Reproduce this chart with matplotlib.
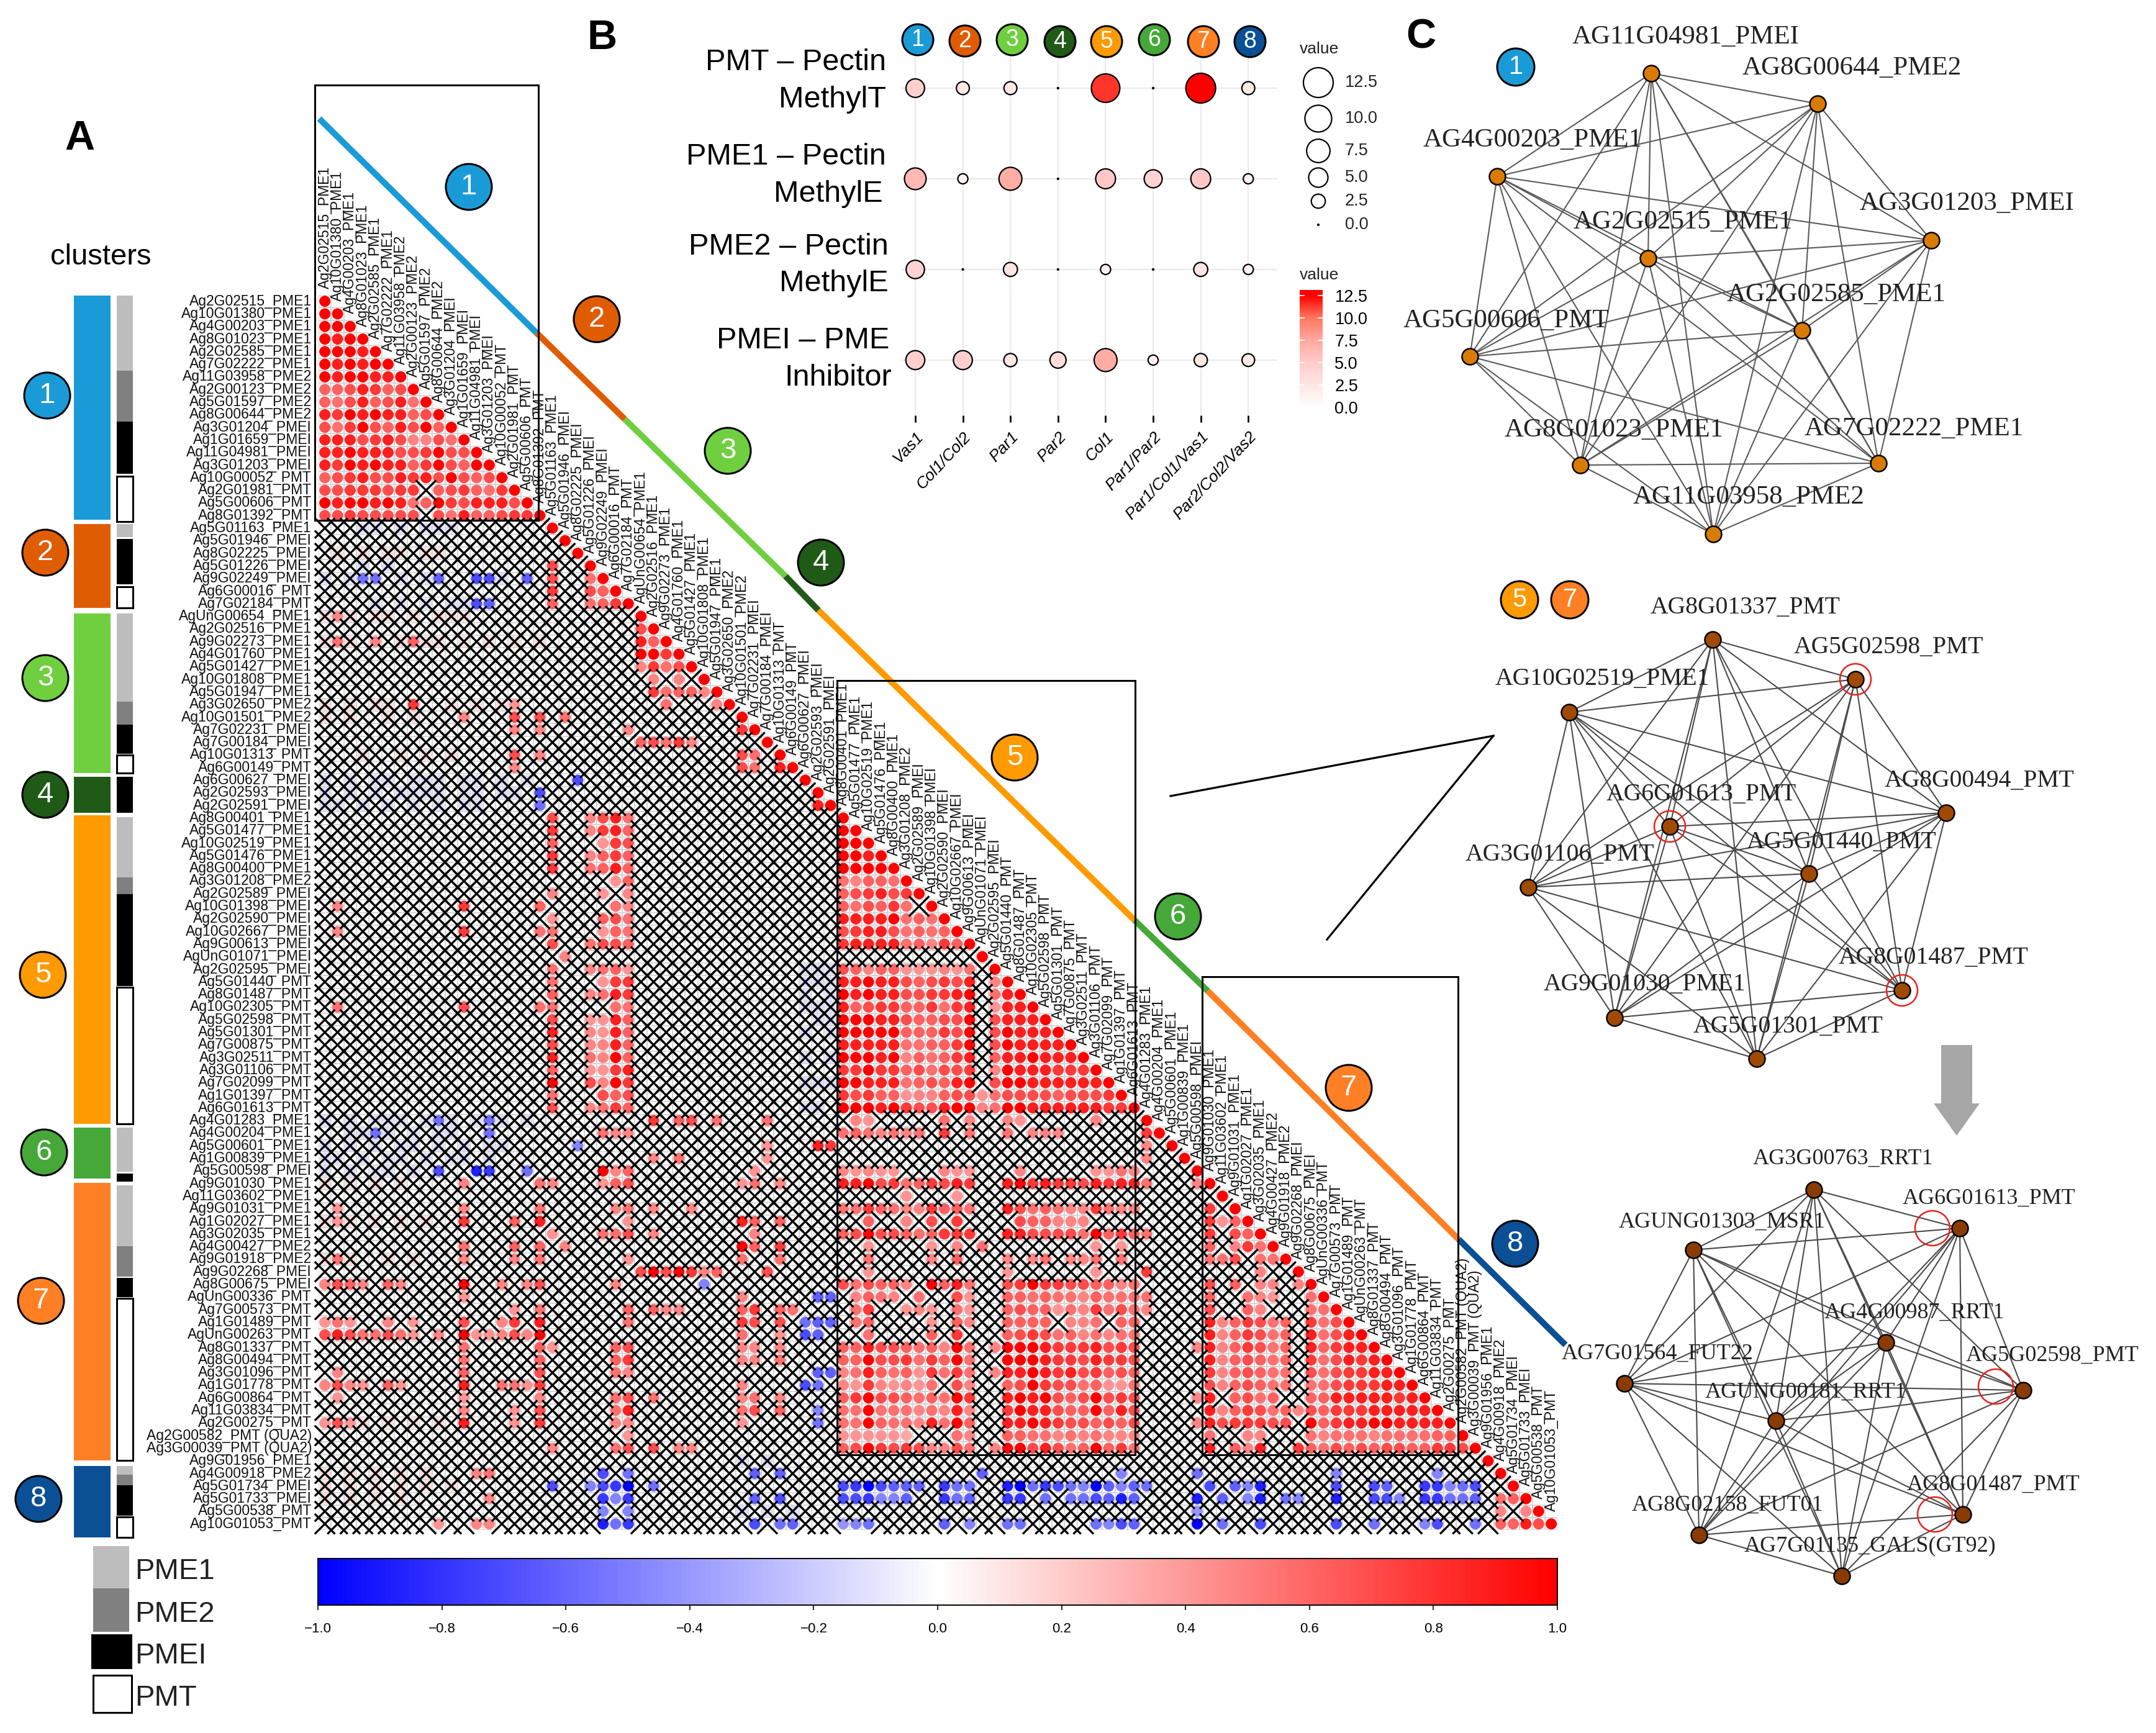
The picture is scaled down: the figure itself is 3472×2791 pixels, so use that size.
from itertools import combinations
import numpy as np
import matplotlib
matplotlib.use("Agg")
import matplotlib.pyplot as plt
from matplotlib.collections import LineCollection
from matplotlib.colors import LinearSegmentedColormap
from matplotlib.patches import Circle, Rectangle, FancyArrow

plt.rcParams['font.family'] = ['Liberation Sans', 'DejaVu Sans']
W, H = 3473, 2791

# ---------------------------------------------------------------- data: panel A
labels_c1 = ["Ag2G02515_PME1","Ag10G01380_PME1","Ag4G00203_PME1","Ag8G01023_PME1","Ag2G02585_PME1","Ag7G02222_PME1",
 "Ag11G03958_PME2","Ag2G00123_PME2","Ag5G01597_PME2","Ag8G00644_PME2","Ag3G01204_PMEI","Ag1G01659_PMEI",
 "Ag11G04981_PMEI","Ag3G01203_PMEI","Ag10G00052_PMT","Ag2G01981_PMT","Ag5G00606_PMT","Ag8G01392_PMT"]
labels_c2 = ["Ag5G01163_PME1","Ag5G01946_PMEI","Ag8G02225_PMEI","Ag5G01226_PMEI","Ag9G02249_PMEI","Ag6G00016_PMT","Ag7G02184_PMT"]
labels_c3 = ["AgUnG00654_PME1","Ag2G02516_PME1","Ag9G02273_PME1","Ag4G01760_PME1","Ag5G01427_PME1","Ag10G01808_PME1",
 "Ag5G01947_PME1","Ag3G02650_PME2","Ag10G01501_PME2","Ag7G02231_PMEI","Ag7G00184_PMEI","Ag10G01313_PMT","Ag6G00149_PMT"]
labels_c4 = ["Ag6G00627_PMEI","Ag2G02593_PMEI","Ag2G02591_PMEI"]
labels_c5 = ["Ag8G00401_PME1","Ag5G01477_PME1","Ag10G02519_PME1","Ag5G01476_PME1","Ag8G00400_PME1","Ag3G01208_PME2",
 "Ag2G02589_PMEI","Ag10G01398_PMEI","Ag2G02590_PMEI","Ag10G02667_PMEI","Ag9G00613_PMEI","AgUnG01071_PMEI","Ag2G02595_PMEI",
 "Ag5G01440_PMT","Ag8G01487_PMT","Ag10G02305_PMT","Ag5G02598_PMT","Ag5G01301_PMT","Ag7G00875_PMT","Ag3G02511_PMT",
 "Ag3G01106_PMT","Ag7G02099_PMT","Ag1G01397_PMT","Ag6G01613_PMT"]
labels_c6 = ["Ag4G01283_PME1","Ag4G00204_PME1","Ag5G00601_PME1","Ag1G00839_PME1","Ag5G00598_PMEI"]
labels_c7 = ["Ag9G01030_PME1","Ag11G03602_PME1","Ag9G01031_PME1","Ag1G02027_PME1","Ag3G02035_PME1","Ag4G00427_PME2",
 "Ag9G01918_PME2","Ag9G02268_PMEI","Ag8G00675_PMEI","AgUnG00336_PMT","Ag7G00573_PMT","Ag1G01489_PMT","AgUnG00263_PMT",
 "Ag8G01337_PMT","Ag8G00494_PMT","Ag3G01096_PMT","Ag1G01778_PMT","Ag6G00864_PMT","Ag11G03834_PMT","Ag2G00275_PMT",
 "Ag2G00582_PMT (QUA2)","Ag3G00039_PMT (QUA2)"]
labels_c8 = ["Ag9G01956_PME1","Ag4G00918_PME2","Ag5G01734_PMEI","Ag5G01733_PMEI","Ag5G00538_PMT","Ag10G01053_PMT"]
gene_labels = labels_c1+labels_c2+labels_c3+labels_c4+labels_c5+labels_c6+labels_c7+labels_c8
N = len(gene_labels)

# significant cells read from the matrix: row -> (first column, level characters)
# 1-9,T = positive strength levels, a-j = negative strength levels, '.' = not significant
sig_cells = {
1:[(0,'T')],2:[(0,'TT')],3:[(0,'T9T')],4:[(0,'TTT9')],5:[(0,'T9T9T')],6:[(0,'T9TT99')],7:[(0,'6679867')],
8:[(0,'65796795')],9:[(0,'98T9T9967')],10:[(0,'758T7697T6')],11:[(0,'99978974475')],12:[(0,'99T999778T77')],
13:[(0,'98T9T9968T76T')],14:[(0,'6789779897T767')],15:[(0,'77888788.678658')],16:[(0,'T9TT9T956T879997')],
17:[(0,'77877777.75966788')],
21:[(18,'7')],22:[(3,'ee'),(9,'f'),(12,'gg'),(16,'f'),(18,'7'),(21,'5')],23:[(18,'8'),(21,'76')],
24:[(12,'gf'),(18,'6'),(21,'568')],25:[(1,'4')],26:[(25,'7')],27:[(1,'5'),(4,'4'),(7,'6'),(25,'96')],
28:[(25,'TT8')],29:[(25,'4857')],30:[(26,'4'),(28,'4')],31:[(26,'85664')],32:[(7,'8'),(15,'3'),(27,'5'),(31,'4')],
33:[(11,'4'),(15,'7'),(17,'7'),(19,'5')],34:[(15,'4'),(17,'4'),(24,'4'),(33,'8')],35:[(25,'67584')],
36:[(15,'7'),(17,'4'),(33,'7'),(34,'5')],37:[(15,'4'),(33,'7'),(34,'5'),(36,'9')],38:[(20,'g')],39:[(17,'g')],
40:[(17,'e'),(39,'9')],41:[(18,'7'),(21,'4795')],
42:[(18,'8'),(21,'4896'),(41,'T')],43:[(18,'6'),(22,'387'),(41,'TT')],44:[(18,'8'),(21,'4686'),(41,'TT9')],
45:[(18,'8'),(21,'5696'),(41,'TTTT')],46:[(23,'36'),(41,'54665')],47:[(18,'4'),(22,'3'),(24,'4'),(41,'678978')],
48:[(1,'4'),(11,'8'),(17,'6'),(23,'54'),(41,'657685')],49:[(18,'3'),(22,'675'),(41,'9999T565')],
50:[(1,'4'),(11,'8'),(17,'55'),(22,'365'),(41,'789975656')],51:[(18,'7'),(21,'5776'),(41,'8999956486')],
52:[(19,'4')],
53:[(18,'5'),(21,'4563'),(41,'76466333435')],54:[(18,'5'),(22,'388'),(41,'99T99767879'),(53,'4')],
55:[(18,'6'),(21,'4598'),(41,'T9T9977889T'),(53,'59')],56:[(1,'5'),(11,'7'),(17,'55'),(23,'55'),(41,'96788668589'),(53,'399')],
57:[(18,'7'),(21,'3396'),(41,'TTT9976677T'),(53,'7999')],58:[(18,'9'),(21,'4396'),(41,'TTTTT66687T'),(53,'7T999')],
59:[(18,'7'),(21,'4496'),(41,'9999955668T'),(53,'7T9999')],60:[(18,'9'),(21,'54T6'),(41,'TTT9T465689'),(53,'699T999')],
61:[(18,'6'),(21,'3389'),(41,'88T88675778'),(53,'4T999888')],62:[(18,'T'),(21,'74T8'),(41,'TT99956769T'),(53,'7TT999999')],
63:[(18,'5'),(22,'767'),(41,'87866344677'),(52,'35'),(54,'777767778')],
64:[(18,'7'),(21,'4586'),(41,'TTT9T8779TT'),(52,'45'),(54,'TT99999988')],
65:[(9,'e'),(13,'e'),(26,'8'),(28,'67'),(31,'5'),(35,'5'),(42,'43'),(49,'5'),(51,'4'),(54,'43'),(61,'4')],
66:[(4,'e'),(13,'e'),(22,'544'),(41,'5654545'),(49,'8'),(51,'5'),(54,'5'),(56,'444'),(65,'8')],
67:[(20,'d'),(35,'3'),(39,'98'),(65,'4')],68:[(26,'4'),(28,'5'),(35,'3'),(65,'4')],
69:[(9,'g'),(12,'ih'),(16,'e'),(22,'T46'),(34,'3'),(41,'43433'),(49,'433'),(55,'4'),(61,'3354')],
70:[(11,'4'),(17,'54'),(22,'367'),(33,'35'),(36,'4'),(41,'99T78568798'),(54,'9T898879899'),(65,'5'),(69,'4')],
71:[(46,'3'),(50,'3')],
72:[(1,'3'),(11,'4'),(17,'5'),(23,'45'),(26,'4'),(29,'4'),(41,'55865448665'),(54,'97565448544'),(70,'8')],
73:[(1,'3'),(11,'8'),(15,'6'),(17,'9'),(24,'3'),(33,'96'),(36,'6'),(43,'6'),(46,'4'),(48,'7'),(50,'8'),(55,'76644'),(60,'4'),(70,'836')],
74:[(18,'3'),(22,'557'),(26,'4'),(34,'4'),(41,'67T77656888'),(54,'997777'),(60,'5T686'),(65,'5'),(70,'8'),(72,'76')],
75:[(11,'5'),(15,'6'),(17,'6'),(19,'4'),(33,'T6'),(36,'8'),(43,'3'),(48,'3'),(50,'4'),(52,'5'),(61,'3'),(63,'3'),(70,'6'),(72,'485')],
76:[(1,'5'),(11,'4'),(15,'4'),(17,'5'),(24,'3'),(33,'5'),(36,'5'),(43,'5'),(48,'4'),(50,'6'),(54,'4'),(56,'45'),(59,'445'),(63,'5'),(70,'55'),(72,'7'),(74,'55')],
77:[(25,'7T7T846'),(35,'7'),(43,'3'),(54,'3'),(61,'3'),(65,'8'),(74,'4')],
78:[(0,'4764'),(5,'64'),(11,'T'),(14,'4'),(16,'47'),(23,'4'),(30,'d'),(41,'757664'),(48,'T695'),(54,'78T88776645'),(70,'7'),(72,'6'),(74,'44'),(77,'4')],
79:[(11,'3'),(33,'4'),(39,'ff'),(42,'4654'),(47,'5'),(50,'73'),(54,'66565546555'),(65,'5'),(70,'6'),(73,'543'),(78,'5')],
80:[(15,'3'),(17,'5'),(24,'6'),(26,'644'),(33,'68'),(36,'65'),(42,'58'),(46,'343'),(50,'53'),(54,'67663548575'),(65,'4'),(70,'7'),(73,'64'),(78,'55')],
81:[(0,'353'),(5,'4'),(7,'3'),(11,'7'),(14,'48'),(17,'9'),(24,'5'),(33,'87'),(36,'7'),(38,'eff'),(42,'56'),(48,'3'),(50,'64'),(54,'6666'),(59,'445'),(63,'66'),(70,'9468756'),(78,'857')],
82:[(0,'79755753'),(9,'4'),(11,'T33474T'),(33,'5'),(36,'3'),(38,'gf'),(43,'5'),(48,'6'),(50,'8'),(54,'67875645455'),(70,'9468756'),(78,'9579')],
83:[(11,'5'),(17,'63'),(23,'67'),(33,'44'),(36,'4'),(41,'669776564T5'),(53,'4TTT98889787'),(69,'4'),(70,'9468756'),(78,'96899')],
84:[(11,'5'),(17,'6'),(23,'68'),(33,'44'),(36,'5'),(41,'66T778586T5'),(54,'TTT98879887'),(70,'9467656'),(78,'857989')],
85:[(1,'4'),(11,'6'),(17,'7'),(23,'54'),(39,'ff'),(41,'45965638585'),(53,'4'),(54,'99T98978676'),(70,'8467655'),(78,'7578899')],
86:[(0,'4743'),(5,'63'),(11,'9'),(14,'5538'),(33,'4'),(38,'ge'),(41,'43843435'),(50,'74'),(54,'67T87756335'),(70,'7467655'),(78,'55788899')],
87:[(1,'3'),(11,'3'),(17,'4'),(23,'57'),(26,'5'),(33,'45'),(36,'4'),(41,'68T776565T8'),(54,'9T9T767T787'),(69,'4'),(70,'9'),(72,'6756'),(78,'669999989')],
88:[(11,'4'),(15,'3'),(17,'7'),(23,'59'),(33,'57'),(36,'6'),(39,'d'),(41,'55T55545494'),(54,'8T99766T697'),(70,'9468756'),(77,'4'),(78,'7688899999')],
89:[(0,'373'),(11,'9'),(15,'3'),(17,'8'),(23,'44'),(33,'3'),(39,'e'),(41,'55T655495T6'),(54,'99T98776767'),(69,'4'),(70,'9788877'),(78,'T6899TT9999')],
90:[(24,'3'),(41,'333332'),(50,'54'),(54,'66554545444'),(70,'5'),(73,'44'),(78,'545554555566')],
91:[(18,'4'),(23,'57'),(26,'7'),(28,'44'),(41,'67T87874475'),(53,'4'),(54,'TT79756T685'),(70,'9'),(72,'64'),(74,'9'),(77,'8'),(78,'6576767766887')],
93:[(12,'45'),(22,'g'),(24,'e'),(34,'f'),(36,'f'),(52,'f'),(63,'d'),(69,'e'),(80,'d'),(88,'d')],
94:[(18,'g'),(21,'dghj'),(26,'e'),(41,'ghjgfff'),(49,'hee'),(54,'ijehgedjfdf'),(65,'e'),(70,'g'),(72,'fdi'),(80,'g'),(83,'gf'),(87,'hhdeg')],
95:[(13,'4'),(22,'hdh'),(34,'f'),(36,'g'),(41,'gghddf'),(49,'hef'),(54,'hh'),(57,'e'),(59,'eegfif'),(69,'i'),(71,'f'),(73,'di'),(76,'ed'),(80,'i'),(83,'ggd'),(87,'hheef'),(93,'56')],
96:[(22,'d'),(24,'d'),(69,'c'),(93,'4'),(95,'4')],
97:[(9,'3'),(12,'44'),(22,'ieh'),(34,'g'),(36,'ef'),(41,'cde'),(49,'f'),(51,'d'),(54,'ee'),(61,'edgf'),(69,'j'),(71,'e'),(74,'g'),(80,'g'),(83,'e'),(87,'dg'),(91,'e'),(93,'66'),(95,'97')],
}
# not-significant cells whose faint tint shows through the crosses: '+' red, '-' blue, '.' none
faint_cells = {
18:(3,'--.-.---'),20:(1,'+.+.++.++'),21:(3,'-.-'),22:(0,'-.-...-.--..-.-'),24:(4,'-.-.-.--'),
25:(0,'+.+.++.+.+++'),27:(0,'+.+.+.+.++.+.+.+.+'),32:(0,'+.+.++.+..+.+.+'),33:(0,'+.+..+.+'),36:(3,'+..+.+.+'),
38:(0,'-.-.--.---.--.-.-.'),39:(0,'-.-.-.----.--.--'),40:(0,'--.-.-.-.-.--'),
53:(38,'---'),54:(38,'---'),55:(38,'-.-'),56:(38,'---'),57:(38,'.--'),58:(38,'-.-'),60:(38,'-.-'),62:(38,'---'),64:(38,'--.'),
65:(0,'-.-.---.-.-.---.-'),66:(2,'--.-.-.--.'),67:(0,'-.-.-.--.-.-.--'),68:(0,'--.-.--.-.--.-'),69:(0,'-.-.--.-.'),
70:(0,'+.+.+.+'),73:(0,'+.+.+.+.+'),76:(0,'+.+..+.+'),89:(3,'+.+.+.+'),92:(33,'-.-'),
93:(0,'+.+.+.+.+'),94:(0,'+.+.+.+.+.+'),95:(0,'+.+.+.+'),96:(33,'-.-.-'),
}
level_corr = {'1':.28,'2':.34,'3':.42,'4':.48,'5':.56,'6':.62,'7':.70,'8':.78,'9':.88,'T':1.0,
              'a':-.28,'b':-.34,'c':-.42,'d':-.48,'e':-.56,'f':-.62,'g':-.70,'h':-.78,'i':-.88,'j':-1.0,
              '+':.14,'-':-.14}

cluster_ids = ['1','2','3','4','5','6','7','8']
cluster_colors = ['#1a9bd7','#e05c00','#6fcf3f','#1f5a17','#ff9a00','#45a838','#ff8024','#0b4f95']
cluster_bar_start = [476,844,988,1251,1313,1816,1905,2361]
cluster_bar_end   = [837,979,1245,1309,1810,1898,2352,2476]
type_names  = ['PME1','PME2','PMEI','PMT']
type_colors = ['#bdbdbd','#808080','#000000','#ffffff']
type_seg_kind  = [0,1,2,3, 0,2,3, 0,1,2,3, 2, 0,1,2,3, 0,2, 0,1,2,3, 0,1,2,3]
type_seg_start = [476,597,679,767, 844,868,945, 988,1130,1167,1216, 1251, 1316,1413,1440,1590, 1816,1890, 1909,2007,2058,2091, 2361,2375,2392,2443]
type_seg_end   = [597,679,763,840, 865,941,979, 1130,1167,1214,1245, 1309, 1413,1440,1588,1810, 1887,1903, 2007,2056,2089,2352, 2375,2392,2441,2476]
colorbar_ticks = [-1.0,-0.8,-0.6,-0.4,-0.2,0.0,0.2,0.4,0.6,0.8,1.0]

# ---------------------------------------------------------------- data: panel B
tissues = ['Vas1','Col1/Col2','Par1','Par2','Col1','Par1/Par2','Par1/Col1/Vas1','Par2/Col2/Vas2']
family_lines = [('PMT – Pectin','MethylT'),('PME1 – Pectin','MethylE'),('PME2 – Pectin','MethylE'),('PMEI – PME','Inhibitor')]
pmt_values  = [4.6,2.1,2.1,0.0,11.4,0.0,12.5,2.1]
pme1_values = [6.4,1.2,7.2,0.0,5.3,4.3,5.3,1.2]
pme2_values = [4.5,0.0,2.5,0.0,1.2,0.0,2.5,1.2]
pmei_values = [4.8,4.8,2.2,3.4,7.2,1.2,2.2,2.0]
size_legend_values = [12.5,10.0,7.5,5.0,2.5,0.0]

# ---------------------------------------------------------------- data: panel C
net1_names = ['AG11G04981_PMEI','AG8G00644_PME2','AG4G00203_PME1','AG3G01203_PMEI','AG2G02515_PME1','AG2G02585_PME1',
              'AG5G00606_PMT','AG8G01023_PME1','AG7G02222_PME1','AG11G03958_PME2']
net2_names = ['AG8G01337_PMT','AG5G02598_PMT','AG10G02519_PME1','AG8G00494_PMT','AG6G01613_PMT','AG5G01440_PMT',
              'AG3G01106_PMT','AG8G01487_PMT','AG9G01030_PME1','AG5G01301_PMT']
net3_names = ['AG3G00763_RRT1','AG6G01613_PMT','AGUNG01303_MSR1','AG4G00987_RRT1','AG5G02598_PMT','AG7G01564_FUT22',
              'AGUNG00181_RRT1','AG8G02158_FUT01','AG8G01487_PMT','AG7G01135_GALS(GT92)']

# ---------------------------------------------------------------- helpers
def add_ax(l, t, r, b, **kw):
    return fig.add_axes([l/W, 1-b/H, (r-l)/W, (b-t)/H], **kw)

def pts(px):
    return px*72/100

corr_cmap = LinearSegmentedColormap.from_list('corr', ['#0000ff','#ffffff','#ff0000'])
value_cmap = LinearSegmentedColormap.from_list('val', [(0,'#ffffff'),(.2,'#ffe6e3'),(.4,'#ffcccc'),(.6,'#ffa9a0'),(.8,'#ff7a60'),(1,'#ff0000')])

fig = plt.figure(figsize=(W/100, H/100), dpi=100, facecolor='white')

# ---------------------------------------------------------------- matrix
sig_r, sig_c, sig_v, cross = [], [], [], []
marks = {}
for r, segs in sig_cells.items():
    for start, chars in segs:
        for k, ch in enumerate(chars):
            if ch != '.':
                marks[(r, start+k)] = level_corr[ch]
faint = {}
for r, (start, chars) in faint_cells.items():
    for k, ch in enumerate(chars):
        if ch != '.':
            faint[(r, start+k)] = level_corr[ch]

ax = add_ax(513, 475, 513+98*20.36, 475+98*20.3)
ax.set_xlim(-.5, N-.5); ax.set_ylim(N-.5, -.5); ax.axis('off')

grid_segments = []
for r in range(N):
    for c in range(r+1):
        grid_segments += [[(c-.5,r-.5),(c+.5,r-.5)],[(c-.5,r+.5),(c+.5,r+.5)],[(c-.5,r-.5),(c-.5,r+.5)],[(c+.5,r-.5),(c+.5,r+.5)]]
        if r == c:
            sig_r.append(r); sig_c.append(c); sig_v.append(1.0)
        elif (r, c) in marks:
            sig_r.append(r); sig_c.append(c); sig_v.append(marks[(r, c)])
        else:
            cross.append((r, c))
            if (r, c) in faint:
                sig_r.append(r); sig_c.append(c); sig_v.append(faint[(r, c)])
ax.add_collection(LineCollection(grid_segments, colors='#d2d2d2', linewidths=1.1, zorder=1))
ax.scatter(sig_c, sig_r, c=sig_v, cmap=corr_cmap, vmin=-1, vmax=1, s=pts(18)**2, linewidths=0, zorder=2)
arm = 0.8
x_segments = []
for r, c in cross:
    x_segments += [[(c-arm,r-arm),(c+arm,r+arm)],[(c-arm,r+arm),(c+arm,r-arm)]]
lc = LineCollection(x_segments, colors='black', linewidths=pts(3.3), zorder=3)
lc.set_clip_on(False)
ax.add_collection(lc)
for i, name in enumerate(gene_labels):
    ax.text(-1.04, i, name, ha='right', va='center', fontsize=16.5, color='#111111', clip_on=False)
    ax.text(i, i-1.0, name, ha='center', va='bottom', rotation=90, fontsize=16.5, color='#111111', clip_on=False)

# ---------------------------------------------------------------- correlation colorbar
cax = add_ax(512, 2510, 2508, 2585)
cax.imshow(np.linspace(-1, 1, 512)[None, :], extent=(-1, 1, 0, 1), aspect='auto', cmap=corr_cmap, vmin=-1, vmax=1)
cax.set_yticks([])
cax.set_xticks(colorbar_ticks)
cax.set_xticklabels([f"{v:.1f}".replace('-', '\u2212') for v in colorbar_ticks], fontsize=16)
cax.tick_params(axis='x', length=6, width=1.2, pad=14)
for s in cax.spines.values():
    s.set_linewidth(1.4)

# ---------------------------------------------------------------- panel B bubbles
bax = add_ax(1451, 85, 2057, 669)
bax.set_xlim(-.30, 7.61); bax.set_ylim(3.61, -.39)
bax.set_xticks(range(len(tissues)))
bax.set_xticklabels(tissues, rotation=47, ha='right', rotation_mode='anchor', style='italic', fontsize=19)
bax.set_yticks(range(4)); bax.set_yticklabels([])
bax.tick_params(axis='y', length=0)
bax.tick_params(axis='x', length=8, width=2, pad=8)
bax.grid(True, color='#ebebeb', linewidth=pts(2.4)); bax.set_axisbelow(True)
for s in bax.spines.values():
    s.set_visible(False)

def bubble_area(v):
    return pts(2 + 46*np.sqrt(np.asarray(v)/12.5))**2

for i, vals in enumerate([pmt_values, pme1_values, pme2_values, pmei_values]):
    bax.scatter(range(len(vals)), [i]*len(vals), s=bubble_area(vals), c=vals, cmap=value_cmap, vmin=0, vmax=12.5,
                edgecolors='black', linewidths=pts(2.2), clip_on=False, zorder=3)

vax = add_ax(2093, 467, 2130, 656)
vax.imshow(np.linspace(13.1, 0, 256)[:, None], extent=(0, 1, 0, 13.1), aspect='auto', cmap=value_cmap, vmin=0, vmax=12.5)
vax.set_xticks([]); vax.yaxis.tick_right()
vax.set_yticks(size_legend_values)
vax.set_yticklabels([f"{v:.1f}" for v in size_legend_values], fontsize=19.5)
vax.tick_params(axis='y', length=0, pad=14)
for s in vax.spines.values():
    s.set_visible(False)
for v in size_legend_values:
    vax.plot([0, .2], [v, v], color='white', lw=1.2)
    vax.plot([.8, 1], [v, v], color='white', lw=1.2)

# ---------------------------------------------------------------- overlay in picture pixels
ov = fig.add_axes([0, 0, 1, 1], zorder=5)
ov.set_xlim(0, W); ov.set_ylim(H, 0); ov.axis('off'); ov.patch.set_alpha(0)

def number_badge(x, y, r, txt, color, size):
    ov.add_patch(Circle((x, y), r, facecolor=color, edgecolor='black', linewidth=pts(3), zorder=8))
    ov.text(x, y, txt, color='white', fontsize=size, ha='center', va='center', zorder=9)

# diagonal cluster strip
strip_x = [514,864,1006,1265,1318,1827,1945,2349,2521]
strip_y = [191,536,675,928,983,1482,1596,1996,2166]
for i, col in enumerate(cluster_colors):
    ov.plot(strip_x[i:i+2], strip_y[i:i+2], color=col, lw=pts(10), solid_capstyle='butt', zorder=6)

# boxes around clusters
for (l, t, r, b) in [(507,137,867,838),(1348,1096,1828,2343),(1936,1573,2348,2343)]:
    ov.add_patch(Rectangle((l, t), r-l, b-t, fill=False, edgecolor='black', linewidth=pts(3), zorder=7))

badge_top_x = [755,961,1172,1322,1634,1897,2172,2440]
badge_top_y = [301,514,726,906,1220,1476,1752,2003]
badge_left_x = [76,73,73,73,69,71,66,62]
badge_left_y = [637,890,1092,1280,1570,1856,2095,2414]
badge_b_x = [1478,1554,1630,1707,1782,1859,1938,2013]
badge_b_y = [64,66,64,67,67,64,67,67]
for i, cid in enumerate(cluster_ids):
    col = cluster_colors[i]
    number_badge(badge_top_x[i], badge_top_y[i], 37, cid, col, 34)
    number_badge(badge_left_x[i], badge_left_y[i], 37, cid, col, 34)
    number_badge(badge_b_x[i], badge_b_y[i], 25, cid, col, 27)
number_badge(2441, 108, 30, '1', cluster_colors[0], 30)
number_badge(2447, 966, 30, '5', cluster_colors[4], 30)
number_badge(2528, 966, 30, '7', cluster_colors[6], 30)

# cluster and type bars
for s, e, col in zip(cluster_bar_start, cluster_bar_end, cluster_colors):
    ov.bar(148.5, e-s, bottom=s, width=59, color=col, linewidth=0, zorder=3)
for k, s, e in zip(type_seg_kind, type_seg_start, type_seg_end):
    ov.bar(201, e-s, bottom=s, width=26, color=type_colors[k], edgecolor='black' if k == 3 else 'none',
           linewidth=pts(3) if k == 3 else 0, zorder=3)

ov.text(162, 414, 'clusters', fontsize=34, ha='center', va='center')
ov.text(128, 224, 'A', fontsize=48, fontweight='bold', ha='center', va='center')
ov.text(970, 62, 'B', fontsize=48, fontweight='bold', ha='center', va='center')
ov.text(2288, 60, 'C', fontsize=48, fontweight='bold', ha='center', va='center')

# type legend
legend_box_x = [150,150,147,150]
legend_box_y = [2490,2558,2632,2698]
legend_box_w = [58,58,66,62]
legend_box_h = [68,70,56,60]
for i, name in enumerate(type_names):
    ov.add_patch(Rectangle((legend_box_x[i], legend_box_y[i]), legend_box_w[i], legend_box_h[i], facecolor=type_colors[i],
                           edgecolor='black' if i == 3 else type_colors[i], linewidth=pts(3) if i == 3 else 0, zorder=3))
    ov.text(217, legend_box_y[i]+legend_box_h[i]/2+7, name, fontsize=34, ha='left', va='center', color='#222222')

# family labels of panel B
line_right = [(1427,1427),(1427,1422),(1431,1431),(1432,1436)]
line_y = [(100,160),(252,312),(397,456),(548,608)]
for (a, b), (ra, rb), (ya, yb) in zip(family_lines, line_right, line_y):
    ov.text(ra, ya, a, fontsize=35, ha='right', va='center')
    ov.text(rb, yb, b, fontsize=35, ha='right', va='center')

# size legend
ov.text(2125, 79, 'value', fontsize=19, ha='center', va='center', color='#222222')
ov.text(2125, 443, 'value', fontsize=19, ha='center', va='center', color='#222222')
legend_y = [133,191,243,286,324,362]
ov.scatter([2123]*6, legend_y, s=bubble_area(size_legend_values), facecolors='white', edgecolors='black', linewidths=pts(2.2), zorder=3)
for v, y in zip(size_legend_values, legend_y):
    ov.text(2166, y, f"{v:.1f}", fontsize=19.5, ha='left', va='center', color='#222222')

# networks
def network(names, nx, ny, lx, ly, fs, node_color, edge_color):
    segs = [[(nx[a], ny[a]), (nx[b], ny[b])] for a, b in combinations(range(len(names)), 2)]
    ov.add_collection(LineCollection(segs, colors=edge_color, linewidths=1.5, zorder=3))
    ov.scatter(nx, ny, s=pts(26)**2, c=node_color, edgecolors='black', linewidths=pts(2.5), zorder=4)
    for n, x, y in zip(names, lx, ly):
        ov.text(x, y+3, n, family='Liberation Serif', fontsize=fs, ha='center', va='center', color='#222222', zorder=5)

net1_x = [2659,2927,2411,3110,2654,2902,2367,2545,3025,2759]
net1_y = [118,167,284,387,416,532,574,749,746,860]
net1_lx = [2715,2982,2468,3168,2710,2957,2425,2599,3082,2816]
net1_ly = [57,107,223,325,355,472,514,690,688,798]
network(net1_names, net1_x, net1_y, net1_lx, net1_ly, 31, '#d97b00', '#5a5a5a')

net2_x = [2758,2988,2527,3134,2689,2913,2461,3063,2600,2829]
net2_y = [1030,1094,1147,1309,1331,1407,1429,1595,1639,1705]
net2_lx = [2811,3041,2580,3188,2740,2966,2512,3114,2649,2880]
net2_ly = [975,1039,1090,1254,1276,1353,1373,1539,1582,1650]
network(net2_names, net2_x, net2_y, net2_lx, net2_ly, 28.5, '#a04a00', '#4a4a4a')

net3_x = [2921,3156,2727,3037,3258,2616,2860,2736,3161,2966]
net3_y = [1916,1978,2013,2162,2239,2228,2288,2472,2439,2538]
net3_lx = [2968,3203,2773,3083,3305,2669,2908,2782,3210,3012]
net3_ly = [1863,1927,1965,2111,2180,2177,2239,2421,2388,2487]
network(net3_names, net3_x, net3_y, net3_lx, net3_ly, 26, '#8a3c00', '#4a4a4a')

ring_x = [2988,2689,3063,3112,3214,3116]
ring_y = [1094,1331,1595,1978,2233,2439]
ring_d = [50,50,50,56,56,56]
ov.scatter(ring_x, ring_y, s=[pts(d)**2 for d in ring_d], facecolors='none', edgecolors='#e8201c', linewidths=pts(2.5), zorder=6)

# zoom lines and arrow
ov.plot([1885,2405], [1282,1185], color='black', lw=pts(3.2), zorder=3)
ov.plot([2137,2405], [1513,1185], color='black', lw=pts(3.2), zorder=3)
ov.add_patch(FancyArrow(3151, 1683, 0, 146, width=50, head_width=74, head_length=52, length_includes_head=True,
                        facecolor='#a6a6a6', edgecolor='none', zorder=3))

fig.savefig('out.png', dpi=100, facecolor='white')
